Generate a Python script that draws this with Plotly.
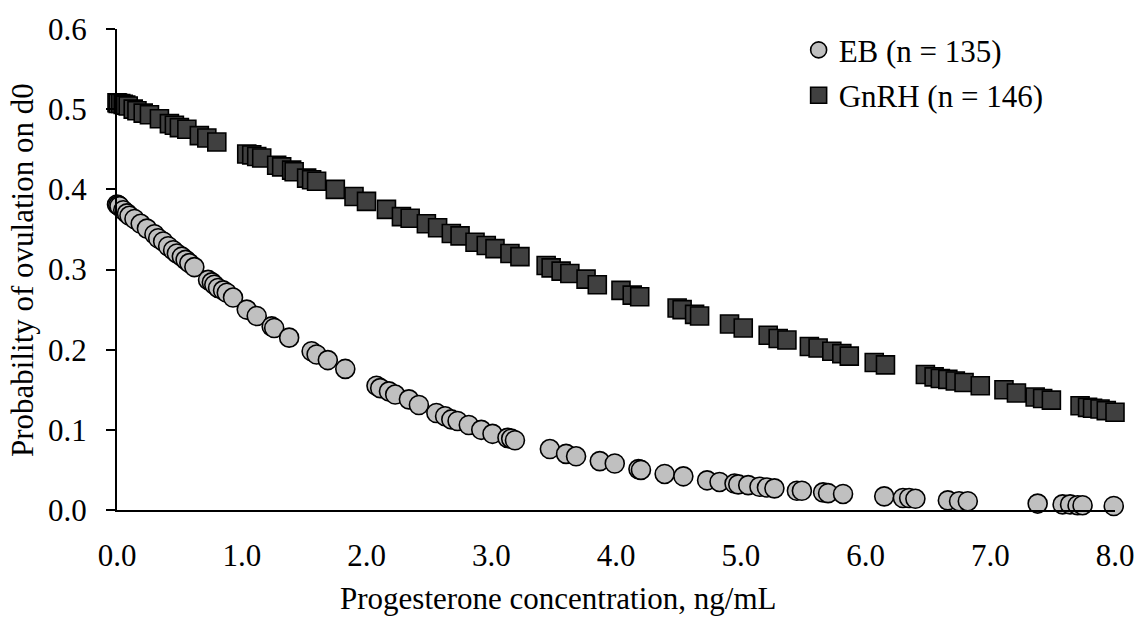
import plotly.graph_objects as go

# EB group (circles)
eb_x = [0.00, 0.01, 0.02, 0.05, 0.08, 0.10, 0.14, 0.19, 0.24, 0.30, 0.33, 0.37, 0.41, 0.45,
        0.48, 0.52, 0.55, 0.58, 0.62, 0.73, 0.76, 0.78, 0.81, 0.85, 0.88, 0.93, 1.04, 1.12,
        1.24, 1.26, 1.38, 1.56, 1.60, 1.69, 1.83, 2.08, 2.11, 2.18, 2.23, 2.34, 2.42, 2.56,
        2.63, 2.68, 2.73, 2.82, 2.92, 3.01, 3.13, 3.16, 3.19, 3.47, 3.60, 3.68, 3.87, 3.99,
        4.18, 4.20, 4.39, 4.54, 4.73, 4.83, 4.95, 4.98, 5.06, 5.15, 5.21, 5.27, 5.45, 5.49,
        5.66, 5.70, 5.82, 6.15, 6.30, 6.35, 6.40, 6.66, 6.75, 6.82, 7.38, 7.58, 7.64, 7.70,
        7.74, 7.99]
eb_y = [0.381, 0.380, 0.379, 0.374, 0.370, 0.367, 0.363, 0.357, 0.351, 0.344, 0.339, 0.335,
        0.329, 0.324, 0.320, 0.316, 0.312, 0.308, 0.303, 0.287, 0.284, 0.281, 0.277, 0.274,
        0.271, 0.265, 0.250, 0.242, 0.229, 0.227, 0.215, 0.198, 0.194, 0.187, 0.176, 0.155,
        0.152, 0.148, 0.144, 0.138, 0.131, 0.121, 0.117, 0.113, 0.111, 0.106, 0.100, 0.095,
        0.090, 0.089, 0.087, 0.076, 0.070, 0.067, 0.061, 0.058, 0.051, 0.050, 0.045, 0.042,
        0.037, 0.035, 0.033, 0.032, 0.031, 0.029, 0.028, 0.027, 0.024, 0.024, 0.022, 0.021,
        0.020, 0.017, 0.015, 0.015, 0.014, 0.012, 0.011, 0.011, 0.008, 0.007, 0.007, 0.006,
        0.006, 0.005]

# GnRH group (squares)
gn_x = [0.00, 0.01, 0.03, 0.05, 0.07, 0.09, 0.13, 0.16, 0.21, 0.26, 0.34, 0.42, 0.46, 0.50,
        0.56, 0.66, 0.72, 0.80, 1.04, 1.08, 1.12, 1.16, 1.28, 1.32, 1.40, 1.42, 1.52, 1.56,
        1.60, 1.75, 1.90, 2.00, 2.16, 2.28, 2.35, 2.48, 2.57, 2.68, 2.75, 2.87, 2.96, 3.03,
        3.15, 3.23, 3.44, 3.48, 3.56, 3.63, 3.76, 3.85, 4.04, 4.13, 4.19, 4.49, 4.53, 4.63,
        4.67, 4.91, 5.02, 5.22, 5.30, 5.37, 5.55, 5.62, 5.73, 5.81, 5.87, 6.07, 6.16, 6.48,
        6.55, 6.60, 6.66, 6.72, 6.79, 6.92, 7.11, 7.21, 7.36, 7.42, 7.49, 7.72, 7.78, 7.82,
        7.88, 7.93, 8.00]
gn_y = [0.508, 0.507, 0.507, 0.506, 0.505, 0.504, 0.500, 0.498, 0.495, 0.493, 0.488, 0.482,
        0.480, 0.477, 0.475, 0.467, 0.464, 0.459, 0.444, 0.443, 0.441, 0.439, 0.430, 0.428,
        0.424, 0.422, 0.414, 0.412, 0.410, 0.400, 0.391, 0.385, 0.375, 0.366, 0.364, 0.357,
        0.352, 0.345, 0.342, 0.334, 0.330, 0.326, 0.320, 0.316, 0.305, 0.302, 0.298, 0.295,
        0.288, 0.281, 0.274, 0.268, 0.266, 0.252, 0.250, 0.244, 0.242, 0.232, 0.227, 0.218,
        0.214, 0.212, 0.204, 0.202, 0.198, 0.195, 0.192, 0.184, 0.181, 0.169, 0.166, 0.164,
        0.163, 0.161, 0.159, 0.155, 0.150, 0.146, 0.141, 0.139, 0.137, 0.130, 0.128, 0.127,
        0.126, 0.124, 0.122]

x_ticks = [0, 1, 2, 3, 4, 5, 6, 7, 8]
x_tick_labels = ["0.0", "1.0", "2.0", "3.0", "4.0", "5.0", "6.0", "7.0", "8.0"]
y_ticks = [0.0, 0.1, 0.2, 0.3, 0.4, 0.5, 0.6]
y_tick_labels = ["0.0", "0.1", "0.2", "0.3", "0.4", "0.5", "0.6"]

FONT = "Liberation Serif, Times New Roman, serif"

fig = go.Figure()
fig.add_trace(go.Scatter(
    x=eb_x, y=eb_y, mode="markers", name="EB (n = 135)", legendgroup="eb",
    marker=dict(symbol="circle", size=19, color="#c0c0c0", line=dict(color="black", width=1.6)),
    cliponaxis=False,
))
fig.add_trace(go.Scatter(
    x=gn_x, y=gn_y, mode="markers", name="GnRH (n = 146)", legendgroup="gn",
    marker=dict(symbol="square", size=18, color="#404040", line=dict(color="black", width=1.6)),
    cliponaxis=False,
))

fig.update_layout(
    width=1146, height=622,
    margin=dict(l=117, r=26, t=22, b=112),
    paper_bgcolor="white", plot_bgcolor="white",
    font=dict(family=FONT, size=31, color="black"),
    showlegend=True,
    legend=dict(x=0.683, y=1.012, xanchor="left", yanchor="top",
                bgcolor="rgba(0,0,0,0)", font=dict(size=31), tracegroupgap=2,
                itemwidth=30),
    xaxis=dict(range=[0, 8], tickvals=x_ticks, ticktext=x_tick_labels,
               showgrid=False, zeroline=False, showline=True, linecolor="black", linewidth=2,
               ticks="", ticklabelstandoff=17, tickfont=dict(size=31)),
    yaxis=dict(range=[0, 0.6], tickvals=y_ticks, ticktext=y_tick_labels,
               showgrid=False, zeroline=False, showline=True, linecolor="black", linewidth=2,
               ticks="outside", ticklen=9, tickwidth=2, tickcolor="black",
               ticklabelstandoff=13, tickfont=dict(size=31)),
    annotations=[
        dict(text="Progesterone concentration, ng/mL", xref="paper", yref="paper",
             x=(560 - 117) / 1003, y=(510 - 600) / 488, xanchor="center", yanchor="middle",
             showarrow=False, font=dict(size=31)),
        dict(text="Probability of ovulation on d0", xref="paper", yref="paper",
             x=(22 - 117) / 1003, y=(510 - 266) / 488, xanchor="center", yanchor="middle",
             textangle=-90, showarrow=False, font=dict(size=31)),
    ],
)

fig.write_html("out.html")
